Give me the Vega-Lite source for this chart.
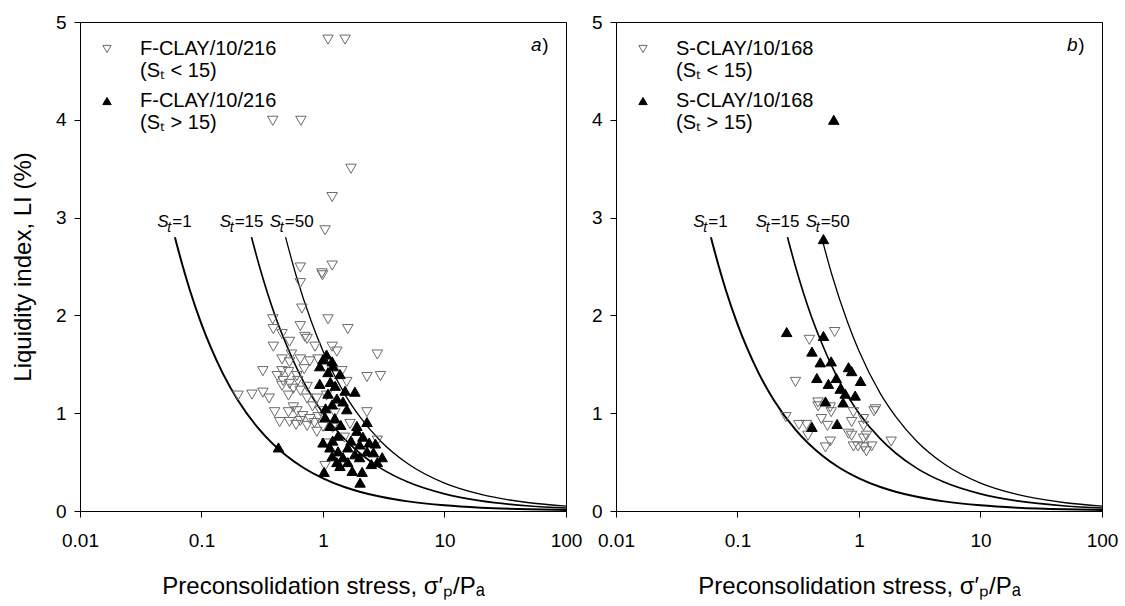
{
  "$schema": "https://vega.github.io/schema/vega-lite/v6.json",
  "padding": {"left": 10, "top": 12, "right": 4, "bottom": 2},
  "background": "white",
  "config": {
    "font": "Liberation Sans",
    "view": {"stroke": "black", "strokeWidth": 1},
    "axis": {"domainColor": "black", "tickColor": "black", "labelColor": "black", "titleColor": "black", "labelFont": "Liberation Sans", "titleFont": "Liberation Sans", "labelFontSize": 19, "titleFontSize": 24, "titleFontWeight": "normal", "tickSize": 6, "grid": false, "labelFlush": false, "labelOverlap": false},
    "legend": {"labelFont": "Liberation Sans", "labelFontSize": 20, "labelColor": "black", "symbolSize": 70, "symbolStrokeWidth": 1, "labelLimit": 0, "padding": 0, "offset": 17, "labelOffset": 23, "rowPadding": 10}
  },
  "datasets": {
    "curves": [
      {"St": "1", "x": 0.0604, "li": 2.80}, {"St": "1", "x": 0.07, "li": 2.505}, {"St": "1", "x": 0.08, "li": 2.263}, {"St": "1", "x": 0.1, "li": 1.911}, {"St": "1", "x": 0.12, "li": 1.665}, {"St": "1", "x": 0.15, "li": 1.405}, {"St": "1", "x": 0.2, "li": 1.130}, {"St": "1", "x": 0.3, "li": 0.831}, {"St": "1", "x": 0.5, "li": 0.564}, {"St": "1", "x": 0.7, "li": 0.437}, {"St": "1", "x": 1, "li": 0.334}, {"St": "1", "x": 1.5, "li": 0.245}, {"St": "1", "x": 2, "li": 0.197}, {"St": "1", "x": 3, "li": 0.145}, {"St": "1", "x": 5, "li": 0.0985}, {"St": "1", "x": 10, "li": 0.0582}, {"St": "1", "x": 20, "li": 0.0344}, {"St": "1", "x": 50, "li": 0.0172}, {"St": "1", "x": 100, "li": 0.0102},
      {"St": "15", "x": 0.2579, "li": 2.80}, {"St": "15", "x": 0.3, "li": 2.50}, {"St": "15", "x": 0.4, "li": 2.01}, {"St": "15", "x": 0.5, "li": 1.70}, {"St": "15", "x": 0.7, "li": 1.31}, {"St": "15", "x": 1, "li": 1.00}, {"St": "15", "x": 1.5, "li": 0.737}, {"St": "15", "x": 2, "li": 0.593}, {"St": "15", "x": 3, "li": 0.436}, {"St": "15", "x": 5, "li": 0.296}, {"St": "15", "x": 10, "li": 0.175}, {"St": "15", "x": 20, "li": 0.1035}, {"St": "15", "x": 50, "li": 0.0516}, {"St": "15", "x": 100, "li": 0.0305},
      {"St": "50", "x": 0.4917, "li": 2.80}, {"St": "50", "x": 0.6, "li": 2.41}, {"St": "50", "x": 0.8, "li": 1.94}, {"St": "50", "x": 1, "li": 1.635}, {"St": "50", "x": 1.5, "li": 1.20}, {"St": "50", "x": 2, "li": 0.967}, {"St": "50", "x": 3, "li": 0.711}, {"St": "50", "x": 5, "li": 0.483}, {"St": "50", "x": 10, "li": 0.285}, {"St": "50", "x": 20, "li": 0.169}, {"St": "50", "x": 50, "li": 0.0842}, {"St": "50", "x": 100, "li": 0.0498}
    ],
    "labels": [
      {"St": "1", "x": 0.0433, "li": 2.9, "eq": "=1"},
      {"St": "15", "x": 0.141, "li": 2.9, "eq": "=15"},
      {"St": "50", "x": 0.365, "li": 2.9, "eq": "=50"}
    ],
    "fclay": [
      {"g": "lt", "x": 1.10, "li": 4.82}, {"g": "lt", "x": 1.52, "li": 4.82}, {"g": "lt", "x": 0.386, "li": 3.99}, {"g": "lt", "x": 0.658, "li": 3.99}, {"g": "lt", "x": 1.70, "li": 3.50}, {"g": "lt", "x": 1.19, "li": 3.21}, {"g": "lt", "x": 1.04, "li": 2.87}, {"g": "lt", "x": 0.65, "li": 2.49}, {"g": "lt", "x": 1.19, "li": 2.51}, {"g": "lt", "x": 0.98, "li": 2.43}, {"g": "lt", "x": 0.99, "li": 2.41}, {"g": "lt", "x": 0.65, "li": 2.33}, {"g": "lt", "x": 0.67, "li": 2.07}, {"g": "lt", "x": 1.10, "li": 1.96}, {"g": "lt", "x": 1.6, "li": 1.86}, {"g": "lt", "x": 0.65, "li": 1.89}, {"g": "lt", "x": 0.386, "li": 1.96}, {"g": "lt", "x": 0.39, "li": 1.86}, {"g": "lt", "x": 0.46, "li": 1.81}, {"g": "lt", "x": 0.71, "li": 1.78}, {"g": "lt", "x": 0.74, "li": 1.76}, {"g": "lt", "x": 0.53, "li": 1.73}, {"g": "lt", "x": 0.39, "li": 1.68}, {"g": "lt", "x": 0.86, "li": 1.68}, {"g": "lt", "x": 1.19, "li": 1.68}, {"g": "lt", "x": 1.3, "li": 1.63}, {"g": "lt", "x": 0.46, "li": 1.55}, {"g": "lt", "x": 0.53, "li": 1.52}, {"g": "lt", "x": 0.65, "li": 1.55}, {"g": "lt", "x": 0.78, "li": 1.53}, {"g": "lt", "x": 0.91, "li": 1.55}, {"g": "lt", "x": 2.8, "li": 1.6}, {"g": "lt", "x": 0.32, "li": 1.43}, {"g": "lt", "x": 0.46, "li": 1.43}, {"g": "lt", "x": 0.52, "li": 1.42}, {"g": "lt", "x": 0.61, "li": 1.38}, {"g": "lt", "x": 1.43, "li": 1.43}, {"g": "lt", "x": 1.57, "li": 1.32}, {"g": "lt", "x": 2.3, "li": 1.37}, {"g": "lt", "x": 2.97, "li": 1.38}, {"g": "lt", "x": 0.47, "li": 1.33}, {"g": "lt", "x": 0.53, "li": 1.30}, {"g": "lt", "x": 0.62, "li": 1.33}, {"g": "lt", "x": 0.74, "li": 1.27}, {"g": "lt", "x": 0.46, "li": 1.28}, {"g": "lt", "x": 0.57, "li": 1.25}, {"g": "lt", "x": 0.65, "li": 1.23}, {"g": "lt", "x": 0.2, "li": 1.18}, {"g": "lt", "x": 0.26, "li": 1.19}, {"g": "lt", "x": 0.32, "li": 1.21}, {"g": "lt", "x": 0.36, "li": 1.15}, {"g": "lt", "x": 0.52, "li": 1.18}, {"g": "lt", "x": 0.74, "li": 1.15}, {"g": "lt", "x": 0.89, "li": 1.15}, {"g": "lt", "x": 1.07, "li": 1.18}, {"g": "lt", "x": 0.40, "li": 1.01}, {"g": "lt", "x": 0.52, "li": 1.01}, {"g": "lt", "x": 0.61, "li": 1.02}, {"g": "lt", "x": 0.68, "li": 0.97}, {"g": "lt", "x": 0.78, "li": 0.94}, {"g": "lt", "x": 0.91, "li": 0.96}, {"g": "lt", "x": 0.44, "li": 0.91}, {"g": "lt", "x": 0.65, "li": 0.92}, {"g": "lt", "x": 0.89, "li": 0.81}, {"g": "lt", "x": 1.67, "li": 0.89}, {"g": "lt", "x": 2.3, "li": 1.01}, {"g": "lt", "x": 2.8, "li": 0.72}, {"g": "lt", "x": 1.07, "li": 0.69}, {"g": "lt", "x": 1.04, "li": 0.46}, {"g": "lt", "x": 0.53, "li": 0.91}, {"g": "lt", "x": 0.74, "li": 0.87}, {"g": "lt", "x": 0.57, "li": 1.06}, {"g": "lt", "x": 0.82, "li": 1.07}, {"g": "lt", "x": 0.95, "li": 1.02}, {"g": "lt", "x": 0.6, "li": 0.88}, {"g": "lt", "x": 0.85, "li": 0.9}, {"g": "lt", "x": 1.0, "li": 0.86}, {"g": "lt", "x": 1.2, "li": 0.85}, {"g": "lt", "x": 1.5, "li": 0.75}, {"g": "lt", "x": 1.25, "li": 1.0}, {"g": "lt", "x": 0.55, "li": 1.6}, {"g": "lt", "x": 0.7, "li": 1.45}, {"g": "lt", "x": 0.42, "li": 1.38},
      {"g": "gt", "x": 1.07, "li": 1.6}, {"g": "gt", "x": 1.19, "li": 1.53}, {"g": "gt", "x": 0.94, "li": 1.48}, {"g": "gt", "x": 1.21, "li": 1.48}, {"g": "gt", "x": 1.10, "li": 1.42}, {"g": "gt", "x": 1.38, "li": 1.40}, {"g": "gt", "x": 0.94, "li": 1.30}, {"g": "gt", "x": 1.26, "li": 1.28}, {"g": "gt", "x": 1.52, "li": 1.23}, {"g": "gt", "x": 1.83, "li": 1.22}, {"g": "gt", "x": 1.3, "li": 1.15}, {"g": "gt", "x": 1.19, "li": 1.09}, {"g": "gt", "x": 1.46, "li": 1.12}, {"g": "gt", "x": 1.57, "li": 1.04}, {"g": "gt", "x": 1.04, "li": 0.96}, {"g": "gt", "x": 1.9, "li": 0.87}, {"g": "gt", "x": 2.3, "li": 0.91}, {"g": "gt", "x": 1.14, "li": 0.87}, {"g": "gt", "x": 1.33, "li": 0.77}, {"g": "gt", "x": 1.14, "li": 0.65}, {"g": "gt", "x": 1.33, "li": 0.61}, {"g": "gt", "x": 1.9, "li": 0.82}, {"g": "gt", "x": 2.13, "li": 0.76}, {"g": "gt", "x": 2.7, "li": 0.69}, {"g": "gt", "x": 3.07, "li": 0.55}, {"g": "gt", "x": 1.19, "li": 0.56}, {"g": "gt", "x": 1.46, "li": 0.55}, {"g": "gt", "x": 1.83, "li": 0.58}, {"g": "gt", "x": 2.3, "li": 0.61}, {"g": "gt", "x": 1.38, "li": 0.46}, {"g": "gt", "x": 1.74, "li": 0.41}, {"g": "gt", "x": 2.1, "li": 0.40}, {"g": "gt", "x": 2.5, "li": 0.48}, {"g": "gt", "x": 2.8, "li": 0.50}, {"g": "gt", "x": 1.02, "li": 0.40}, {"g": "gt", "x": 0.43, "li": 0.65}, {"g": "gt", "x": 2.02, "li": 0.29}, {"g": "gt", "x": 1.0, "li": 1.55}, {"g": "gt", "x": 1.1, "li": 1.2}, {"g": "gt", "x": 1.25, "li": 0.95}, {"g": "gt", "x": 1.0, "li": 0.7}, {"g": "gt", "x": 1.2, "li": 0.72}, {"g": "gt", "x": 1.6, "li": 0.65}, {"g": "gt", "x": 2.0, "li": 0.55}, {"g": "gt", "x": 1.6, "li": 0.5}, {"g": "gt", "x": 2.4, "li": 0.7}, {"g": "gt", "x": 2.0, "li": 0.68}, {"g": "gt", "x": 1.15, "li": 1.32}, {"g": "gt", "x": 1.05, "li": 1.05}, {"g": "gt", "x": 1.4, "li": 0.88}, {"g": "gt", "x": 1.7, "li": 0.72}, {"g": "gt", "x": 2.6, "li": 0.6}, {"g": "gt", "x": 1.3, "li": 0.5}
    ],
    "sclay": [
      {"g": "lt", "x": 0.63, "li": 1.83}, {"g": "lt", "x": 0.39, "li": 1.75}, {"g": "lt", "x": 0.30, "li": 1.32}, {"g": "lt", "x": 0.46, "li": 1.11}, {"g": "lt", "x": 0.46, "li": 1.07}, {"g": "lt", "x": 0.58, "li": 1.06}, {"g": "lt", "x": 0.59, "li": 1.01}, {"g": "lt", "x": 1.37, "li": 1.04}, {"g": "lt", "x": 1.33, "li": 1.02}, {"g": "lt", "x": 0.25, "li": 0.96}, {"g": "lt", "x": 0.32, "li": 0.88}, {"g": "lt", "x": 0.37, "li": 0.88}, {"g": "lt", "x": 0.49, "li": 0.94}, {"g": "lt", "x": 0.55, "li": 0.87}, {"g": "lt", "x": 0.90, "li": 1.01}, {"g": "lt", "x": 0.87, "li": 0.91}, {"g": "lt", "x": 1.09, "li": 0.94}, {"g": "lt", "x": 1.09, "li": 0.87}, {"g": "lt", "x": 0.82, "li": 0.79}, {"g": "lt", "x": 0.87, "li": 0.77}, {"g": "lt", "x": 1.15, "li": 0.77}, {"g": "lt", "x": 1.09, "li": 0.74}, {"g": "lt", "x": 0.38, "li": 0.77}, {"g": "lt", "x": 0.58, "li": 0.71}, {"g": "lt", "x": 0.53, "li": 0.65}, {"g": "lt", "x": 0.90, "li": 0.66}, {"g": "lt", "x": 0.98, "li": 0.66}, {"g": "lt", "x": 1.09, "li": 0.65}, {"g": "lt", "x": 1.15, "li": 0.61}, {"g": "lt", "x": 1.27, "li": 0.66}, {"g": "lt", "x": 1.84, "li": 0.71},
      {"g": "gt", "x": 0.254, "li": 1.83}, {"g": "gt", "x": 0.51, "li": 1.79}, {"g": "gt", "x": 0.41, "li": 1.63}, {"g": "gt", "x": 0.48, "li": 1.52}, {"g": "gt", "x": 0.59, "li": 1.53}, {"g": "gt", "x": 0.82, "li": 1.47}, {"g": "gt", "x": 0.87, "li": 1.43}, {"g": "gt", "x": 0.45, "li": 1.36}, {"g": "gt", "x": 0.65, "li": 1.36}, {"g": "gt", "x": 0.56, "li": 1.30}, {"g": "gt", "x": 1.03, "li": 1.33}, {"g": "gt", "x": 0.70, "li": 1.25}, {"g": "gt", "x": 0.77, "li": 1.20}, {"g": "gt", "x": 0.93, "li": 1.18}, {"g": "gt", "x": 0.53, "li": 1.12}, {"g": "gt", "x": 0.74, "li": 1.11}, {"g": "gt", "x": 0.66, "li": 0.89}, {"g": "gt", "x": 0.41, "li": 0.86}, {"g": "gt", "x": 0.51, "li": 2.78}, {"g": "gt", "x": 0.62, "li": 4.0}
    ]
  },
  "spacing": 50,
  "bounds": "flush",
  "resolve": {
    "scale": {"shape": "independent", "fill": "independent", "stroke": "independent"},
    "legend": {"shape": "independent", "fill": "independent", "stroke": "independent"}
  },
  "hconcat": [
    {
      "width": 486,
      "height": 489,
      "layer": [
        {
          "data": {"name": "curves"},
          "mark": {"type": "line", "color": "black", "interpolate": "monotone"},
          "encoding": {
            "x": {"field": "x", "type": "quantitative", "scale": {"type": "log", "domain": [0.01, 100]}, "axis": {"values": [0.01, 0.1, 1, 10, 100], "format": "~g", "labelPadding": 14, "titlePadding": 24, "title": "Preconsolidation stress, σ′ₚ/Pₐ"}},
            "y": {"field": "li", "type": "quantitative", "scale": {"domain": [0, 5], "nice": false}, "axis": {"values": [0, 1, 2, 3, 4, 5], "format": "d", "labelPadding": 8, "titlePadding": 20, "title": "Liquidity index, LI (%)"}},
            "detail": {"field": "St"},
            "strokeWidth": {"field": "St", "type": "nominal", "scale": {"domain": ["1", "15", "50"], "range": [2, 1.3, 1.3]}, "legend": null}
          }
        },
        {
          "data": {"name": "fclay"},
          "mark": {"type": "point", "filled": true, "size": 110, "strokeWidth": 1, "opacity": 1},
          "encoding": {
            "x": {"field": "x", "type": "quantitative"},
            "y": {"field": "li", "type": "quantitative"},
            "shape": {"field": "g", "type": "nominal", "scale": {"domain": ["lt", "gt"], "range": ["triangle-down", "triangle-up"]}, "legend": {"title": null, "orient": "top-left", "labelExpr": "datum.value == 'lt' ? ['F-CLAY/10/216', '(Sₜ < 15)'] : ['F-CLAY/10/216', '(Sₜ > 15)']"}},
            "fill": {"field": "g", "type": "nominal", "scale": {"domain": ["lt", "gt"], "range": ["transparent", "black"]}, "legend": {"title": null, "orient": "top-left", "labelExpr": "datum.value == 'lt' ? ['F-CLAY/10/216', '(Sₜ < 15)'] : ['F-CLAY/10/216', '(Sₜ > 15)']"}},
            "stroke": {"field": "g", "type": "nominal", "scale": {"domain": ["lt", "gt"], "range": ["#6a6a6a", "black"]}, "legend": {"title": null, "orient": "top-left", "labelExpr": "datum.value == 'lt' ? ['F-CLAY/10/216', '(Sₜ < 15)'] : ['F-CLAY/10/216', '(Sₜ > 15)']"}}
          }
        },
        {
          "data": {"name": "labels"},
          "mark": {"type": "text", "align": "left", "baseline": "alphabetic", "fontSize": 17, "fontStyle": "italic", "color": "black"},
          "encoding": {"x": {"field": "x", "type": "quantitative"}, "y": {"field": "li", "type": "quantitative"}, "text": {"value": "S"}}
        },
        {
          "data": {"name": "labels"},
          "mark": {"type": "text", "align": "left", "baseline": "alphabetic", "fontSize": 14, "fontStyle": "italic", "dx": 10, "dy": 5, "color": "black"},
          "encoding": {"x": {"field": "x", "type": "quantitative"}, "y": {"field": "li", "type": "quantitative"}, "text": {"value": "t"}}
        },
        {
          "data": {"name": "labels"},
          "mark": {"type": "text", "align": "left", "baseline": "alphabetic", "fontSize": 17, "dx": 15, "color": "black"},
          "encoding": {"x": {"field": "x", "type": "quantitative"}, "y": {"field": "li", "type": "quantitative"}, "text": {"field": "eq"}}
        },
        {
          "data": {"values": [{"x": 72, "li": 4.76, "t": "a"}]},
          "mark": {"type": "text", "align": "right", "baseline": "middle", "fontSize": 19, "fontStyle": "italic", "dx": -7, "color": "black"},
          "encoding": {"x": {"field": "x", "type": "quantitative"}, "y": {"field": "li", "type": "quantitative"}, "text": {"field": "t"}}
        },
        {
          "data": {"values": [{"x": 72, "li": 4.76, "t": ")"}]},
          "mark": {"type": "text", "align": "right", "baseline": "middle", "fontSize": 19, "color": "black"},
          "encoding": {"x": {"field": "x", "type": "quantitative"}, "y": {"field": "li", "type": "quantitative"}, "text": {"field": "t"}}
        }
      ]
    },
    {
      "width": 486,
      "height": 489,
      "layer": [
        {
          "data": {"name": "curves"},
          "mark": {"type": "line", "color": "black", "interpolate": "monotone"},
          "encoding": {
            "x": {"field": "x", "type": "quantitative", "scale": {"type": "log", "domain": [0.01, 100]}, "axis": {"values": [0.01, 0.1, 1, 10, 100], "format": "~g", "labelPadding": 14, "titlePadding": 24, "title": "Preconsolidation stress, σ′ₚ/Pₐ"}},
            "y": {"field": "li", "type": "quantitative", "scale": {"domain": [0, 5], "nice": false}, "axis": {"values": [0, 1, 2, 3, 4, 5], "format": "d", "labelPadding": 8, "title": null}},
            "detail": {"field": "St"},
            "strokeWidth": {"field": "St", "type": "nominal", "scale": {"domain": ["1", "15", "50"], "range": [2, 1.3, 1.3]}, "legend": null}
          }
        },
        {
          "data": {"name": "sclay"},
          "mark": {"type": "point", "filled": true, "size": 110, "strokeWidth": 1, "opacity": 1},
          "encoding": {
            "x": {"field": "x", "type": "quantitative"},
            "y": {"field": "li", "type": "quantitative"},
            "shape": {"field": "g", "type": "nominal", "scale": {"domain": ["lt", "gt"], "range": ["triangle-down", "triangle-up"]}, "legend": {"title": null, "orient": "top-left", "labelExpr": "datum.value == 'lt' ? ['S-CLAY/10/168', '(Sₜ < 15)'] : ['S-CLAY/10/168', '(Sₜ > 15)']"}},
            "fill": {"field": "g", "type": "nominal", "scale": {"domain": ["lt", "gt"], "range": ["transparent", "black"]}, "legend": {"title": null, "orient": "top-left", "labelExpr": "datum.value == 'lt' ? ['S-CLAY/10/168', '(Sₜ < 15)'] : ['S-CLAY/10/168', '(Sₜ > 15)']"}},
            "stroke": {"field": "g", "type": "nominal", "scale": {"domain": ["lt", "gt"], "range": ["#6a6a6a", "black"]}, "legend": {"title": null, "orient": "top-left", "labelExpr": "datum.value == 'lt' ? ['S-CLAY/10/168', '(Sₜ < 15)'] : ['S-CLAY/10/168', '(Sₜ > 15)']"}}
          }
        },
        {
          "data": {"name": "labels"},
          "mark": {"type": "text", "align": "left", "baseline": "alphabetic", "fontSize": 17, "fontStyle": "italic", "color": "black"},
          "encoding": {"x": {"field": "x", "type": "quantitative"}, "y": {"field": "li", "type": "quantitative"}, "text": {"value": "S"}}
        },
        {
          "data": {"name": "labels"},
          "mark": {"type": "text", "align": "left", "baseline": "alphabetic", "fontSize": 14, "fontStyle": "italic", "dx": 10, "dy": 5, "color": "black"},
          "encoding": {"x": {"field": "x", "type": "quantitative"}, "y": {"field": "li", "type": "quantitative"}, "text": {"value": "t"}}
        },
        {
          "data": {"name": "labels"},
          "mark": {"type": "text", "align": "left", "baseline": "alphabetic", "fontSize": 17, "dx": 15, "color": "black"},
          "encoding": {"x": {"field": "x", "type": "quantitative"}, "y": {"field": "li", "type": "quantitative"}, "text": {"field": "eq"}}
        },
        {
          "data": {"values": [{"x": 72, "li": 4.76, "t": "b"}]},
          "mark": {"type": "text", "align": "right", "baseline": "middle", "fontSize": 19, "fontStyle": "italic", "dx": -7, "color": "black"},
          "encoding": {"x": {"field": "x", "type": "quantitative"}, "y": {"field": "li", "type": "quantitative"}, "text": {"field": "t"}}
        },
        {
          "data": {"values": [{"x": 72, "li": 4.76, "t": ")"}]},
          "mark": {"type": "text", "align": "right", "baseline": "middle", "fontSize": 19, "color": "black"},
          "encoding": {"x": {"field": "x", "type": "quantitative"}, "y": {"field": "li", "type": "quantitative"}, "text": {"field": "t"}}
        }
      ]
    }
  ]
}
